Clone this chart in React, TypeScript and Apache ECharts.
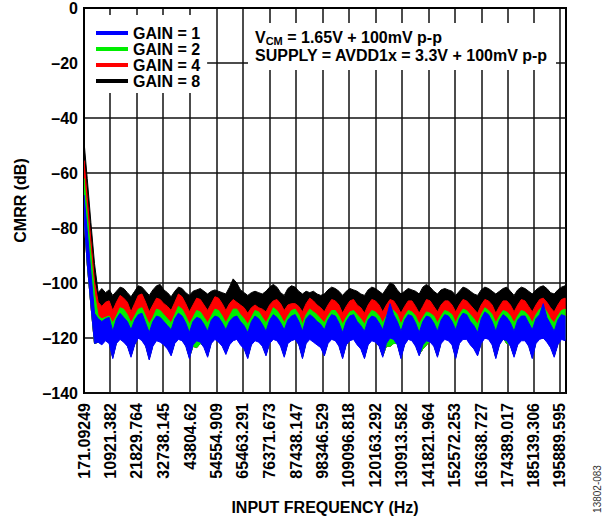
import React, { useEffect, useRef } from "react";
import * as echarts from "echarts";

const FONT = '"Liberation Sans", Arial, Helvetica, sans-serif';

// Input frequency sample points (Hz)
const X_HZ = [
  171.09, 1500, 3000, 4500, 6000, 7500, 9000, 10500, 12000, 13500,
  15000, 16500, 18000, 19500, 21000, 22500, 24000, 25500, 27000, 28500,
  30000, 31500, 33000, 34500, 36000, 37500, 39000, 40500, 42000, 43500,
  45000, 46500, 48000, 49500, 51000, 52500, 54000, 55500, 57000, 58500,
  60000, 61500, 63000, 64500, 66000, 67500, 69000, 70500, 72000, 73500,
  75000, 76500, 78000, 79500, 81000, 82500, 84000, 85500, 87000, 88500,
  90000, 91500, 93000, 94500, 96000, 97500, 99000, 100500, 102000, 103500,
  105000, 106500, 108000, 109500, 111000, 112500, 114000, 115500, 117000, 118500,
  120000, 121500, 123000, 124500, 126000, 127500, 129000, 130500, 132000, 133500,
  135000, 136500, 138000, 139500, 141000, 142500, 144000, 145500, 147000, 148500,
  150000, 151500, 153000, 154500, 156000, 157500, 159000, 160500, 162000, 163500,
  165000, 166500, 168000, 169500, 171000, 172500, 174000, 175500, 177000, 178500,
  180000, 181500, 183000, 184500, 186000, 187500, 189000, 190500, 192000, 193500,
  195000, 196500, 198000,
];

// GAIN = 8 (black) upper envelope, dB
const GAIN8_TOP = [
  -48.5, -62, -78, -93, -103.5, -102, -103.5, -102.5, -104.5, -103,
  -101.5, -102, -103.5, -105, -103, -101, -101.5, -103, -104.5, -102.5,
  -101, -100.5, -102.5, -103.5, -105, -103, -101.5, -102, -103.5, -104.5,
  -103, -102.5, -102, -103, -104, -103, -102.5, -103, -103.5, -104,
  -101.5, -98.5, -100, -102.5, -103.5, -104.5, -103.5, -103, -103.5, -104,
  -103, -101.5, -100.5, -101.5, -103.5, -104.5, -102, -101, -101.5, -103,
  -104, -103, -103.5, -103, -104, -104.5, -104, -102.5, -101.5, -102,
  -103, -104.5, -103, -102, -102.5, -103, -104, -104.5, -102.5, -101.5,
  -102, -103, -104, -102, -100, -100.5, -102.5, -104, -103, -102,
  -102.5, -103, -104, -101.5, -100.5, -101.5, -103, -104, -102.5, -102,
  -102.5, -103, -104.5, -103, -101.5, -102, -103, -104, -104.5, -102.5,
  -101.5, -102, -103, -104, -103, -102, -101.5, -103, -104.5, -102.5,
  -101.5, -102, -103, -104, -102.5, -101.5, -101, -102, -103.5, -104,
  -102.5, -101.5, -101,
];

// GAIN = 4 (red) upper envelope, dB
const GAIN4_TOP = [
  -55.5, -69, -84.5, -99.5, -107, -108.5, -107, -106.5, -110, -107,
  -104.5, -105.5, -107, -110.5, -107.5, -104.5, -104, -107, -110.5, -108,
  -105.5, -106, -107.5, -108.5, -110, -107, -104, -105, -107.5, -110.5,
  -108, -105.5, -106, -108, -110, -107.5, -105, -105.5, -107.5, -110,
  -107.5, -106, -107, -108, -109, -111, -109, -108, -109, -109.5,
  -110.5, -108, -106.5, -106, -107.5, -110, -108, -107.5, -107.5, -108.5,
  -110.5, -107.5, -105.5, -106.5, -108, -109, -110.5, -108, -106, -106.5,
  -108, -111, -108.5, -106.5, -106, -108, -109, -111, -108, -106,
  -106.5, -108, -110.5, -108, -106, -106.5, -108.5, -111, -108.5, -106.5,
  -106.5, -108.5, -111, -108.5, -106, -106.5, -108.5, -110.5, -108, -106.5,
  -106.5, -108, -110.5, -108, -106, -106.5, -108, -109.5, -111, -108,
  -106, -106.5, -108, -111, -108.5, -106.5, -106.5, -108, -110.5, -108,
  -106, -106.5, -108.5, -110.5, -108, -106, -105.5, -107, -109, -110.5,
  -108, -106, -105.5,
];

// GAIN = 2 (green) upper envelope, dB
const GAIN2_TOP = [
  -62, -75, -89.5, -104, -112, -113, -112.5, -112, -114.5, -112,
  -109, -109.5, -111.5, -114.5, -112, -109.5, -109, -112, -115, -112.5,
  -109.5, -110, -111.5, -113, -114.5, -111.5, -108.5, -109.5, -112, -115,
  -112.5, -110, -110.5, -112.5, -114.5, -112, -109.5, -110, -112, -114.5,
  -112, -109.5, -109.5, -111.5, -113, -115, -112.5, -110, -110.5, -112.5,
  -114.5, -112, -109, -110, -112, -114.5, -112, -110, -109.5, -111.5,
  -115, -111.5, -109.5, -110.5, -111.5, -113, -114.5, -112, -110, -110,
  -112, -115, -112.5, -110.5, -110, -111.5, -113, -115, -112, -110,
  -110.5, -112, -114.5, -112, -109.5, -110, -111.5, -115, -112, -110,
  -110.5, -112, -115, -112.5, -110.5, -111, -112, -114.5, -112, -110,
  -110.5, -111.5, -114.5, -111.5, -109.5, -110, -111.5, -113, -115, -111.5,
  -109, -110, -111.5, -114.5, -112, -110, -110.5, -112, -114.5, -112,
  -110, -110.5, -112, -114.5, -111.5, -109.5, -108.5, -110.5, -113, -114.5,
  -112, -110, -109.5,
];

// GAIN = 2 (green) lower envelope, dB
const GAIN2_BOTTOM = [
  -76, -93, -108, -122, -121.5, -122, -120.5, -121.5, -127, -121.5,
  -120, -121, -122.5, -126.5, -122, -119.5, -120.5, -122.5, -127.5, -122.5,
  -120.5, -121, -122, -123.5, -126, -121.5, -120, -120.5, -122.5, -127,
  -123, -123.5, -122, -123, -126.5, -121.5, -120, -121, -122.5, -125.5,
  -122, -120.5, -120, -122, -123.5, -127, -122, -120.5, -121, -122.5,
  -126, -121.5, -120, -120.5, -122.5, -126.5, -121.5, -120.5, -120, -122,
  -127, -121.5, -120, -121, -122, -123, -126, -121.5, -120, -120.5,
  -122.5, -127, -122, -120.5, -120, -122, -123.5, -127, -122, -120.5,
  -121, -122.5, -126.5, -123, -123, -122, -122, -127, -122, -120,
  -120.5, -122.5, -126, -124, -122.5, -121, -122.5, -126.5, -121.5, -120,
  -120.5, -122, -127, -121.5, -120, -120, -122, -123.5, -126, -121.5,
  -119.5, -120, -122, -127, -122, -120, -122, -122.5, -126.5, -122,
  -120.5, -120.5, -122.5, -127, -121.5, -120, -119.5, -121, -123, -126.5,
  -122, -120, -120.5,
];

// GAIN = 1 (blue) upper envelope, dB
const GAIN1_TOP = [
  -68, -81, -96, -111, -113, -114, -113, -112.5, -117.5, -113,
  -111, -112.5, -114, -117, -113.5, -111.5, -111, -114.5, -118, -114,
  -112, -112.5, -114, -115.5, -117, -113, -111, -112, -114.5, -118,
  -114, -112.5, -113, -115, -117.5, -113.5, -112, -112.5, -114.5, -117,
  -114, -112.5, -112, -114, -115.5, -118, -114, -112, -113, -115,
  -117.5, -113.5, -111.5, -112.5, -114.5, -117, -113.5, -112, -111.5, -114,
  -117.5, -113, -111.5, -112.5, -114, -115, -117, -113.5, -111.5, -112,
  -114.5, -118, -114, -112, -111.5, -114, -115.5, -117.5, -113.5, -112,
  -112.5, -114.5, -117, -112.5, -107.5, -111.5, -114, -117.5, -113.5, -111.5,
  -112, -114.5, -118, -114, -112, -112.5, -114.5, -117.5, -113.5, -111.5,
  -112, -114, -117, -113, -111, -111.5, -114, -115.5, -118, -113,
  -110.5, -111.5, -114, -117.5, -113.5, -111.5, -112.5, -114.5, -117.5, -113.5,
  -112, -112, -114.5, -117, -113, -111.5, -107.5, -112.5, -115, -117.5,
  -113.5, -111.5, -112,
];

// GAIN = 1 (blue) lower envelope, dB
const GAIN1_BOTTOM = [
  -76, -93, -108, -122, -121.5, -122.5, -121, -122, -127.5, -122,
  -120.5, -121.5, -123, -127, -122.5, -120, -121, -123, -128, -123,
  -121, -121.5, -122.5, -124, -126.5, -122, -120.5, -121, -123, -127.5,
  -122.5, -121, -121.5, -123.5, -127, -122, -120.5, -121.5, -123, -126,
  -122.5, -121, -120.5, -122.5, -124, -127.5, -122.5, -121, -121.5, -123,
  -126.5, -122, -120.5, -121, -123, -127, -122, -121, -120.5, -122.5,
  -127.5, -122, -120.5, -121.5, -122.5, -123.5, -126.5, -122, -120.5, -121,
  -123, -127.5, -122.5, -121, -120.5, -122.5, -124, -127.5, -122.5, -121,
  -121.5, -123, -127, -122, -120, -120.5, -122.5, -127.5, -122.5, -120.5,
  -121, -123, -126.5, -122.5, -121, -121.5, -123, -127, -122, -120.5,
  -121, -122.5, -127.5, -122, -120.5, -120.5, -122.5, -124, -126.5, -122,
  -120, -120.5, -122.5, -127.5, -122.5, -120.5, -121, -123, -127, -122.5,
  -121, -121, -123, -127.5, -122, -120.5, -120, -121.5, -123.5, -127,
  -122.5, -120.5, -121,
];

// X-axis tick labels (Hz)
const X_TICKS = [
  171.09249, 10921.382, 21829.764, 32738.145, 43804.62, 54554.909, 65463.291,
  76371.673, 87438.147, 98346.529, 109096.818, 120163.292, 130913.582,
  141821.964, 152572.253, 163638.727, 174389.017, 185139.306, 195889.595,
];
const X_TICK_LABELS = [
  "171.09249", "10921.382", "21829.764", "32738.145", "43804.62", "54554.909",
  "65463.291", "76371.673", "87438.147", "98346.529", "109096.818", "120163.292",
  "130913.582", "141821.964", "152572.253", "163638.727", "174389.017",
  "185139.306", "195889.595",
];

const LEGEND_ORDER = ["GAIN = 1", "GAIN = 2", "GAIN = 4", "GAIN = 8"];

function bandSeries(name: string, color: string, top: number[], bottom: number[]) {
  return {
    name,
    type: "custom",
    coordinateSystem: "cartesian2d",
    itemStyle: { color },
    clip: true,
    data: [[X_HZ[0], top[0]]],
    renderItem: (_params: any, api: any) => {
      const pts: number[][] = [];
      for (let i = 0; i < X_HZ.length; i++) pts.push(api.coord([X_HZ[i], top[i]]));
      for (let i = X_HZ.length - 1; i >= 0; i--) pts.push(api.coord([X_HZ[i], bottom[i]]));
      return {
        type: "polygon",
        shape: { points: pts },
        style: { fill: color, stroke: color, lineWidth: 1 },
      };
    },
  };
}

export default function App() {
  const ref = useRef<HTMLDivElement>(null);

  useEffect(() => {
    if (!ref.current) return;
    const chart = echarts.init(ref.current, undefined, { renderer: "svg" });
    const boldText = { fontFamily: FONT, fontWeight: "bold", fontSize: 16, color: "#000" };
    chart.setOption({
      animation: false,
      backgroundColor: "#fff",
      grid: {
        left: 84,
        right: 47,
        top: 7,
        bottom: 129,
        show: true,
        borderColor: "#000",
        borderWidth: 2,
        backgroundColor: "transparent",
      },
      title: {
        text: "{n|V}{s|CM}{n| = 1.65V + 100mV p-p}\n{n|SUPPLY = AVDD1x = 3.3V + 100mV p-p}",
        left: 248,
        top: 23,
        padding: [5, 8, 6, 7],
        backgroundColor: "#fff",
        textStyle: {
          ...boldText,
          lineHeight: 18,
          rich: {
            n: { ...boldText, lineHeight: 18 },
            s: { ...boldText, fontSize: 11, lineHeight: 12, verticalAlign: "bottom" },
          },
        },
      },
      legend: {
        data: LEGEND_ORDER,
        orient: "vertical",
        left: 85,
        top: 15,
        padding: [10, 7, 4, 11],
        backgroundColor: "#fff",
        icon: "rect",
        itemWidth: 32,
        itemHeight: 4,
        itemGap: 0,
        selectedMode: false,
        textStyle: { ...boldText, lineHeight: 16 },
      },
      xAxis: {
        type: "value",
        min: 171.09249,
        max: 198360,
        name: "INPUT FREQUENCY (Hz)",
        nameLocation: "middle",
        nameGap: 106,
        nameTextStyle: boldText,
        axisLine: { show: true, lineStyle: { color: "#000", width: 2 } },
        axisTick: { show: false, customValues: X_TICKS },
        splitLine: { show: true, lineStyle: { color: "#111", width: 1.5 } },
        axisLabel: {
          ...boldText,
          customValues: X_TICKS,
          rotate: 90,
          margin: 10,
          formatter: (v: number) => {
            let best = 0;
            for (let i = 1; i < X_TICKS.length; i++) {
              if (Math.abs(X_TICKS[i] - v) < Math.abs(X_TICKS[best] - v)) best = i;
            }
            return X_TICK_LABELS[best];
          },
        },
      },
      yAxis: {
        type: "value",
        min: -140,
        max: 0,
        interval: 20,
        name: "CMRR (dB)",
        nameLocation: "middle",
        nameRotate: 90,
        nameGap: 56,
        nameTextStyle: boldText,
        axisLine: { show: true, lineStyle: { color: "#000", width: 2 } },
        axisTick: { show: false },
        splitLine: { show: true, lineStyle: { color: "#111", width: 1.5 } },
        axisLabel: {
          ...boldText,
          margin: 6,
          formatter: (v: number) => (v < 0 ? "\u2013" + Math.abs(v) : String(v)),
        },
      },
      graphic: [
        {
          type: "text",
          x: 597,
          y: 489,
          rotation: Math.PI / 2,
          style: {
            text: "13802-083",
            fontFamily: FONT,
            fontSize: 10,
            fill: "#333",
            align: "center",
            verticalAlign: "middle",
          },
        },
      ],
      series: [
        bandSeries("GAIN = 8", "#000000", GAIN8_TOP, GAIN2_BOTTOM),
        bandSeries("GAIN = 4", "#ff0000", GAIN4_TOP, GAIN2_BOTTOM),
        bandSeries("GAIN = 2", "#00ee00", GAIN2_TOP, GAIN2_BOTTOM),
        bandSeries("GAIN = 1", "#0000ff", GAIN1_TOP, GAIN1_BOTTOM),
      ],
    });
    return () => chart.dispose();
  }, []);

  return (
    <div
      ref={ref}
      style={{ position: "fixed", left: 0, top: 0, width: 613, height: 522, background: "#fff" }}
    />
  );
}
